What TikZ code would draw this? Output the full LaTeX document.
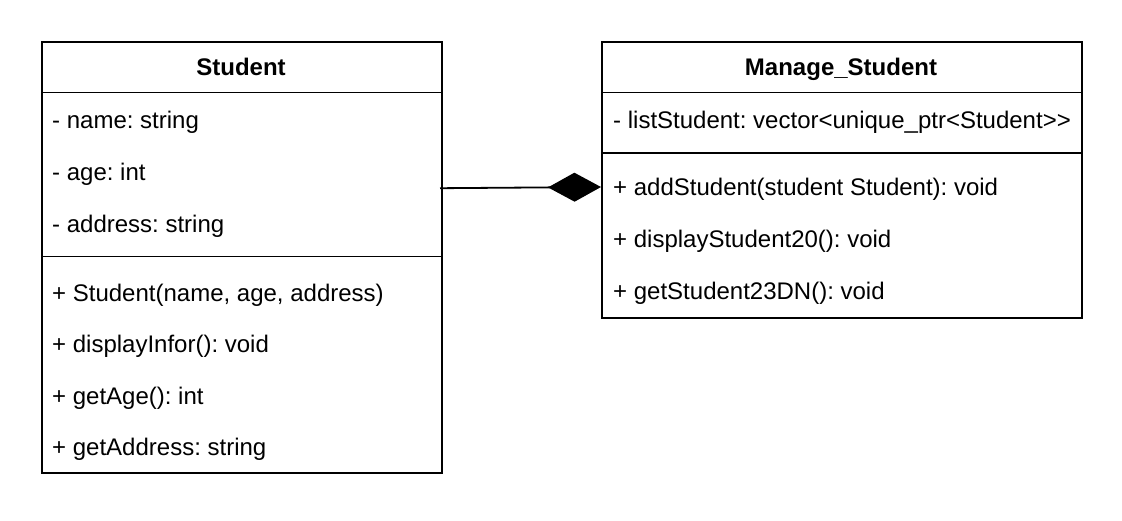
\documentclass[tikz,border=0pt]{standalone}
\usepackage{fontspec}
\setmainfont{Liberation Sans}
\frenchspacing
\usetikzlibrary{arrows.meta}
\tikzset{
  classbox/.style={draw=black, line width=1.8pt, fill=white, rectangle, anchor=north west, inner sep=0pt},
  divider/.style={draw=black, line width=1.8pt},
  member/.style={anchor=base west, inner sep=0pt, font=\fontsize{24}{28}\selectfont},
  title/.style={anchor=base, inner sep=0pt, font=\fontsize{24}{28}\selectfont\bfseries},
  composition/.style={draw=black, line width=1.8pt, -{Diamond[length=53pt,width=29pt,fill=black]}}
}
\begin{document}
\begin{tikzpicture}[x=1pt,y=-1pt]
\useasboundingbox (0,0) rectangle (1122,520);
% Student class
\node[classbox, minimum width=400pt, minimum height=431pt] (stu) at (41,41) {};
\draw[divider] (41,92.5) -- (441,92.5);
\draw[divider] (41,256.5) -- (441,256.5);
\node[title] (stuT) at (241,75.7) {Student};
\node[member] (a1) at (52,128.7) {- name: string};
\node[member] (a2) at (52,180.3) {- age: int};
\node[member] (a3) at (52,232) {- address: string};
\node[member] (m1) at (52,301) {+ Student(name, age, address)};
\node[member] (m2) at (52,352.5) {+ displayInfor(): void};
\node[member] (m3) at (52,404) {+ getAge(): int};
\node[member] (m4) at (52,455.5) {+ getAddress: string};
% Manage_Student class
\node[classbox, minimum width=480pt, minimum height=276pt] (ms) at (601,41) {};
\draw[divider] (601,92.5) -- (1081,92.5);
\draw[divider] (601,152.7) -- (1081,152.7);
\node[title] (msT) at (841,75.7) {Manage\_Student};
\node[member] (b1) at (613,128.3) {- listStudent: vector<unique\_ptr<Student>{}>};
\node[member] (n1) at (613,195.7) {+ addStudent(student Student): void};
\node[member] (n2) at (613,247.3) {+ displayStudent20(): void};
\node[member] (n3) at (613,299) {+ getStudent23DN(): void};
% composition
\coordinate (src) at (440,188.2);
\coordinate (tgt) at (601,187);
\draw[composition] (src) -- (tgt);
\end{tikzpicture}
\end{document}
